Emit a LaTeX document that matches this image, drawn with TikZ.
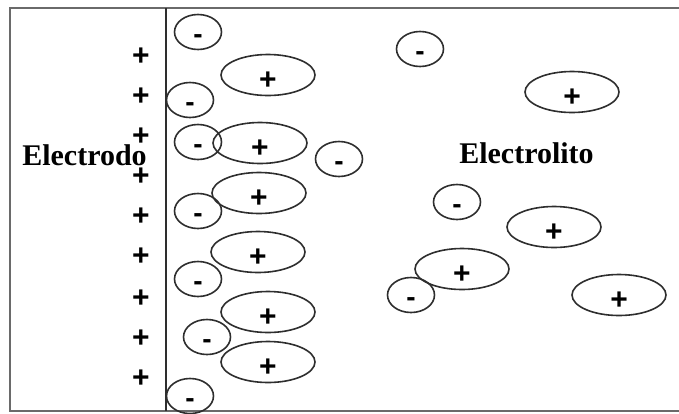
\documentclass[tikz,border=0pt]{standalone}
\usepackage{fontspec}
\setmainfont{Liberation Serif}
\newfontfamily\signfont{Liberation Sans}
\usetikzlibrary{shapes.geometric}
\definecolor{ink}{HTML}{2E2E2E}
\definecolor{frame}{HTML}{6A6A6A}
\tikzset{
  anion/.style={ellipse,draw=ink,line width=1.6pt,inner sep=0pt,
    minimum width=47pt,minimum height=35pt,
    font=\signfont\bfseries\fontsize{28}{28}\selectfont,text height=23pt,text depth=0pt},
  cation/.style={ellipse,draw=ink,line width=1.6pt,inner sep=0pt,
    minimum width=94pt,minimum height=36pt,
    font=\signfont\bfseries\fontsize{30}{30}\selectfont,text height=29pt,text depth=0pt},
  charge/.style={inner sep=0pt,font=\signfont\bfseries\fontsize{30}{30}\selectfont,
    text height=21.6pt,text depth=0pt},
  label/.style={inner sep=0pt,anchor=base,font=\bfseries\fontsize{30}{30}\selectfont}
}
\begin{document}
\begin{tikzpicture}[x=1pt,y=-1pt]
\useasboundingbox (0,0) rectangle (679,413);
\fill[white] (0,0) rectangle (679,413);
% frame
\coordinate (tl) at (10,8);
\coordinate (tr) at (679,8);
\coordinate (bl) at (10,411);
\coordinate (br) at (679,411);
\draw[frame,line width=1.8pt] (tr) -- (tl) -- (bl) -- (br);
% electrode surface
\coordinate (et) at (166,8);
\coordinate (eb) at (166,411);
\draw[ink,line width=1.6pt] (et) -- (eb);
% labels
\node[label] (electrodo) at (84.5,165) {Electrodo};
\node[label] (electrolito) at (526.5,163) {Electrolito};
% electrode charges
\foreach \i/\y in {1/55,2/95,3/135,4/175,5/215,6/255,7/297,8/337,9/377}
  \node[charge] (q\i) at (141,\y) {+};
% anions
\node[anion] (m1) at (198,32) {-};
\node[anion] (m2) at (190,100) {-};
\node[anion] (m3) at (198,142) {-};
\node[anion] (m4) at (339,159) {-};
\node[anion] (m5) at (198,211) {-};
\node[anion] (m6) at (198,279) {-};
\node[anion] (m7) at (207,337) {-};
\node[anion] (m8) at (190,396) {-};
\node[anion] (m9) at (420,49) {-};
\node[anion] (m10) at (457,202) {-};
\node[anion] (m11) at (411,295) {-};
% cations
\node[cation] (p1) at (268,75) {+};
\node[cation] (p2) at (260,143) {+};
\node[cation] (p3) at (259,193) {+};
\node[cation] (p4) at (258,252) {+};
\node[cation] (p5) at (268,312) {+};
\node[cation] (p6) at (268,362) {+};
\node[cation] (p7) at (572,92) {+};
\node[cation] (p8) at (554,227) {+};
\node[cation] (p9) at (462,269) {+};
\node[cation] (p10) at (619,295) {+};
\end{tikzpicture}
\end{document}
